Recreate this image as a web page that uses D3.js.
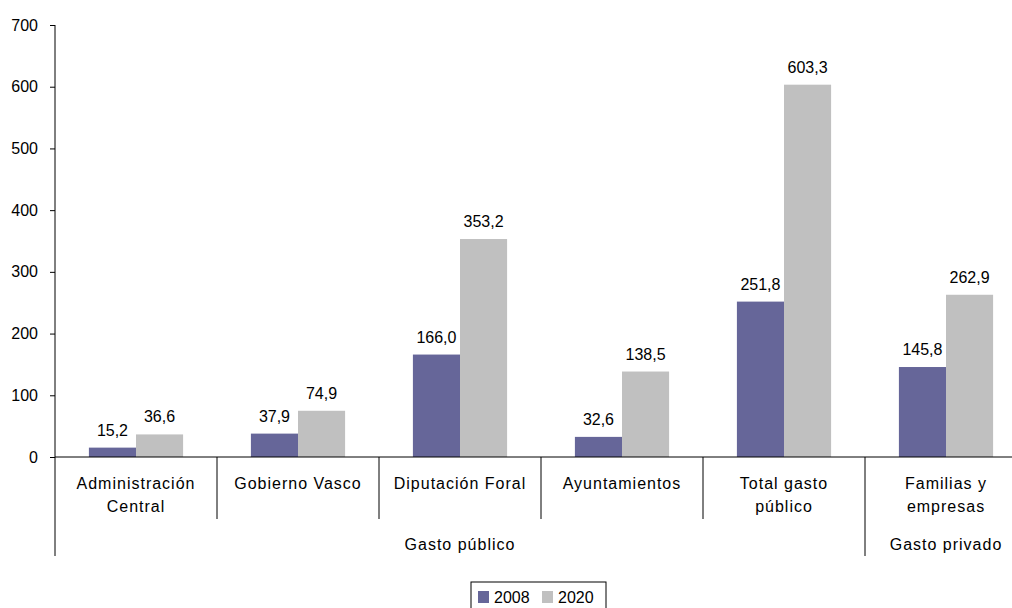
<!DOCTYPE html>
<html>
<head>
<meta charset="utf-8">
<script src="https://cdn.jsdelivr.net/npm/d3@7"></script>
<style>
  body { margin: 0; background: #fff; }
  svg text { font-family: "Liberation Sans", Arial, sans-serif; fill: #000; }
</style>
</head>
<body>
<svg id="chart" width="1012" height="608"></svg>
<script>
const categories = [
  ["Administración", "Central"],
  ["Gobierno Vasco"],
  ["Diputación Foral"],
  ["Ayuntamientos"],
  ["Total gasto", "público"],
  ["Familias y", "empresas"]
];
const groups = [
  {name: "Gasto público", from: 0, to: 4},
  {name: "Gasto privado", from: 5, to: 5}
];
const years = ["2008", "2020"];
const values2008 = [15.2, 37.9, 166.0, 32.6, 251.8, 145.8];
const values2020 = [36.6, 74.9, 353.2, 138.5, 603.3, 262.9];
const yTicks = [0, 100, 200, 300, 400, 500, 600, 700];
const colors = ["#666699", "#c0c0c0"];

const svg = d3.select("#chart");
const plotLeft = 55, plotRight = 1027, plotTop = 25, base = 457;

const x = d3.scaleBand().domain(d3.range(categories.length)).range([plotLeft, plotRight]).paddingInner(0).paddingOuter(0);
const inner = d3.scaleBand().domain(years).range([0, x.bandwidth()]).paddingInner(0).paddingOuter(0.72);
const y = d3.scaleLinear().domain([0, 700]).range([base, plotTop]);

const fmt = v => v.toFixed(1).replace(".", ",");

// y axis
const yAxis = svg.append("g")
  .attr("transform", `translate(${plotLeft},0)`)
  .call(d3.axisLeft(y).tickValues(yTicks).tickSize(5).tickPadding(12).tickFormat(d => d));
yAxis.select(".domain").attr("d", `M0,${plotTop}V${base}`).attr("stroke", "#000");
yAxis.selectAll(".tick line").attr("stroke", "#000");
yAxis.selectAll(".tick text").attr("font-size", 16);

// bars
const series = [values2008, values2020];
series.forEach((vals, si) => {
  svg.append("g").selectAll("rect")
    .data(vals)
    .join("rect")
    .attr("x", (d, i) => x(i) + inner(years[si]))
    .attr("y", d => y(d))
    .attr("width", inner.bandwidth())
    .attr("height", d => y(0) - y(d))
    .attr("fill", colors[si]);

  svg.append("g").selectAll("text")
    .data(vals)
    .join("text")
    .attr("x", (d, i) => x(i) + inner(years[si]) + inner.bandwidth() / 2)
    .attr("y", d => y(d) - 12)
    .attr("text-anchor", "middle")
    .attr("font-size", 16)
    .text(fmt);
});

// x axis line
svg.append("line")
  .attr("x1", plotLeft).attr("x2", plotRight)
  .attr("y1", base).attr("y2", base)
  .attr("stroke", "#000");

// category separators
const groupStarts = groups.map(g => g.from);
d3.range(categories.length).forEach(i => {
  const isGroup = groupStarts.includes(i);
  svg.append("line")
    .attr("x1", x(i)).attr("x2", x(i))
    .attr("y1", base).attr("y2", isGroup ? 556 : 519)
    .attr("stroke", "#000");
});

// category labels
svg.append("g").selectAll("text")
  .data(categories)
  .join("text")
  .attr("x", (d, i) => x(i) + x.bandwidth() / 2)
  .attr("y", 489)
  .attr("text-anchor", "middle")
  .attr("font-size", 16)
  .attr("letter-spacing", 1)
  .each(function(d) {
    const cx = d3.select(this).attr("x");
    d3.select(this).selectAll("tspan")
      .data(d)
      .join("tspan")
      .attr("x", cx)
      .attr("dy", (t, j) => j === 0 ? 0 : 23)
      .text(t => t);
  });

// group labels
svg.append("g").selectAll("text")
  .data(groups)
  .join("text")
  .attr("x", g => (x(g.from) + x(g.to) + x.bandwidth()) / 2)
  .attr("y", 550)
  .attr("text-anchor", "middle")
  .attr("font-size", 16)
  .attr("letter-spacing", 1)
  .text(g => g.name);

// legend
const legend = svg.append("g").attr("transform", "translate(471,582)");
legend.append("rect")
  .attr("width", 135).attr("height", 30)
  .attr("fill", "#fff").attr("stroke", "#000");
years.forEach((yr, i) => {
  const g = legend.append("g").attr("transform", `translate(${7 + i * 64},9)`);
  g.append("rect").attr("width", 11).attr("height", 12).attr("fill", colors[i]);
  g.append("text").attr("x", 16).attr("y", 12).attr("font-size", 16).text(yr);
});
</script>
</body>
</html>
